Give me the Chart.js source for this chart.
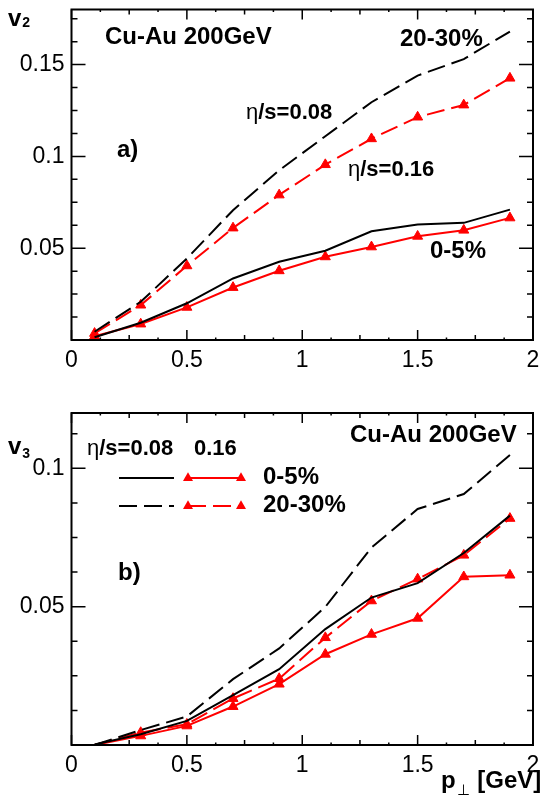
<!DOCTYPE html>
<html>
<head>
<title>v2 and v3 in Cu-Au 200GeV</title>
<script src="https://cdn.jsdelivr.net/npm/chart.js"></script>
<style>
  body { margin: 0; background: #fff; }
  canvas { position: absolute; left: 0; }
  #topChart { top: 0; }
  #bottomChart { top: 380px; }
</style>
</head>
<body>
<canvas id="topChart" width="541" height="380"></canvas>
<canvas id="bottomChart" width="541" height="427"></canvas>
<script>
// p_T bins (GeV)
const pt = [0.1, 0.3, 0.5, 0.7, 0.9, 1.1, 1.3, 1.5, 1.7, 1.9];

// panel a) v2
const v2Central008 = [0.0015, 0.0094, 0.020, 0.0335, 0.0426, 0.0486, 0.0592, 0.0629, 0.0638, 0.071];
const v2Central016 = [0.002, 0.0087, 0.0178, 0.0286, 0.0377, 0.0453, 0.0507, 0.0565, 0.0598, 0.0665];
const v2Mid008 = [0.0045, 0.0208, 0.0444, 0.0707, 0.0924, 0.111, 0.1295, 0.144, 0.153, 0.168];
const v2Mid016 = [0.0036, 0.019, 0.0404, 0.061, 0.079, 0.0955, 0.1096, 0.1214, 0.128, 0.1426];

// panel b) v3
const v3Central008 = [0.0002, 0.0039, 0.0087, 0.018, 0.0274, 0.0419, 0.0533, 0.0585, 0.0694, 0.0829];
const v3Central016 = [0, 0.0033, 0.0069, 0.0139, 0.022, 0.0328, 0.040, 0.0458, 0.0608, 0.0614];
const v3Mid008 = [0, 0.0054, 0.0103, 0.0238, 0.0349, 0.0499, 0.0714, 0.0853, 0.0907, 0.1048];
const v3Mid016 = [0, 0.0045, 0.0075, 0.0168, 0.024, 0.0388, 0.0521, 0.060, 0.0686, 0.0819];

// tick labels
const xTickLabels = [0, 0.5, 1, 1.5, 2];
const v2TickLabels = [0.05, 0.1, 0.15];
const v3TickLabels = [0.05, 0.1];

const RED = '#ff0000';
const DASH = [18, 7];
const FONT = 'Liberation Sans, Arial, sans-serif';

function pts(ys) {
  return pt.map((x, i) => ({ x: x, y: ys[i] }));
}

function blackLine(ys, dashed) {
  return {
    data: pts(ys), borderColor: '#000', borderWidth: 2, pointRadius: 0,
    borderDash: dashed ? DASH : [], tension: 0, fill: false
  };
}

function redLine(ys, dashed) {
  return {
    data: pts(ys), borderColor: RED, borderWidth: 2, tension: 0, fill: false,
    borderDash: dashed ? DASH : [],
    pointStyle: 'triangle',
    pointRadius: c => (c.raw && c.raw.y > 0 ? 5.8 : 0),
    pointBackgroundColor: RED, pointBorderColor: RED, pointBorderWidth: 1
  };
}

// frame with inward ticks on all four sides (ROOT style)
const frameTicks = {
  id: 'frameTicks',
  afterDatasetsDraw(chart, args, opts) {
    const { ctx, chartArea: a, scales: { x, y } } = chart;
    ctx.save();
    ctx.strokeStyle = '#000';
    ctx.lineWidth = 1.5;
    ctx.beginPath();
    for (let i = 0; i <= 16; i++) {
      const px = x.getPixelForValue(i * 0.125);
      const len = i % 4 === 0 ? 10 : (i % 2 === 0 ? 5 : 2.5);
      ctx.moveTo(px, a.bottom); ctx.lineTo(px, a.bottom - len);
      ctx.moveTo(px, a.top); ctx.lineTo(px, a.top + len);
    }
    for (let i = 0; i * 0.0125 <= y.max + 1e-9; i++) {
      const py = y.getPixelForValue(i * 0.0125);
      const len = i % 4 === 0 ? 14 : 6;
      ctx.moveTo(a.left, py); ctx.lineTo(a.left + len, py);
      ctx.moveTo(a.right, py); ctx.lineTo(a.right - len, py);
    }
    ctx.stroke();
    ctx.lineWidth = 2;
    ctx.strokeRect(a.left, a.top, a.right - a.left, a.bottom - a.top);
    ctx.restore();
  }
};

function tri(ctx, cx, cy, r) {
  ctx.beginPath();
  ctx.moveTo(cx, cy - r);
  ctx.lineTo(cx + r * Math.sin(2 * Math.PI / 3), cy - r * Math.cos(2 * Math.PI / 3));
  ctx.lineTo(cx + r * Math.sin(4 * Math.PI / 3), cy - r * Math.cos(4 * Math.PI / 3));
  ctx.closePath();
  ctx.fill();
}

// labels, sub-scripted axis names and the hand drawn legend
const notes = {
  id: 'notes',
  afterDraw(chart, args, opts) {
    const ctx = chart.ctx;
    ctx.save();
    ctx.textBaseline = 'alphabetic';
    (opts.items || []).forEach(it => {
      if (it.line) {
        ctx.strokeStyle = it.color;
        ctx.fillStyle = it.color;
        ctx.lineWidth = 2;
        ctx.setLineDash(it.dash || []);
        ctx.beginPath();
        ctx.moveTo(it.x0, it.y); ctx.lineTo(it.x1, it.y);
        ctx.stroke();
        ctx.setLineDash([]);
        if (it.marker) { tri(ctx, it.x0, it.y, 5.8); tri(ctx, it.x1, it.y, 5.8); }
        return;
      }
      ctx.fillStyle = it.color || '#000';
      const size = it.size || 24;
      let x = it.x;
      if (it.greek) {
        // thin greek letter in front, as in the original figure
        ctx.font = size + 'px ' + FONT;
        ctx.fillText(it.greek, x, it.y);
        x += ctx.measureText(it.greek).width;
      }
      ctx.font = 'bold ' + size + 'px ' + FONT;
      ctx.fillText(it.text, x, it.y);
      if (it.sub) {
        const w = ctx.measureText(it.text).width;
        ctx.font = (it.subBold === false ? '' : 'bold ') + (it.subSize || 15) + 'px ' + FONT;
        ctx.fillText(it.sub, x + w + 1, it.y + (it.subDy || 5));
        if (it.tail) {
          const w2 = ctx.measureText(it.sub).width;
          ctx.font = 'bold ' + size + 'px ' + FONT;
          ctx.fillText(it.tail, x + w + w2 + 2, it.y);
        }
      }
    });
    ctx.restore();
  }
};

function makeChart(id, datasets, yMax, yTicks, padTop, xAxisHeight, items) {
  return new Chart(document.getElementById(id), {
    type: 'line',
    data: { datasets: datasets },
    options: {
      responsive: false,
      animation: false,
      devicePixelRatio: 1,
      layout: { padding: { top: padTop, right: 8, left: 0, bottom: 0 } },
      plugins: {
        legend: { display: false },
        tooltip: { enabled: false },
        notes: { items: items }
      },
      scales: {
        x: {
          type: 'linear', min: 0, max: 2,
          grid: { display: false, drawTicks: false },
          border: { display: false },
          afterBuildTicks: s => { s.ticks = xTickLabels.map(v => ({ value: v })); },
          afterFit: s => { s.height = xAxisHeight; s.paddingLeft = 0; s.paddingRight = 0; },
          ticks: {
            color: '#000', padding: 7, maxRotation: 0, autoSkip: false,
            font: { family: FONT, size: 23 },
            callback: v => String(v)
          }
        },
        y: {
          type: 'linear', min: 0, max: yMax,
          grid: { display: false, drawTicks: false },
          border: { display: false },
          afterBuildTicks: s => { s.ticks = yTicks.map(v => ({ value: v })); },
          afterFit: s => { s.width = 71.5; s.paddingTop = 0; s.paddingBottom = 0; },
          ticks: {
            color: '#000', padding: 7, autoSkip: false,
            font: { family: FONT, size: 23 },
            callback: v => String(v)
          }
        }
      }
    },
    plugins: [frameTicks, notes]
  });
}

makeChart('topChart', [
  blackLine(v2Central008, false),
  blackLine(v2Mid008, true),
  redLine(v2Central016, false),
  redLine(v2Mid016, true)
], 0.18, v2TickLabels, 9.5, 40, [
  { text: 'v', x: 8, y: 26, size: 24, sub: '2', subSize: 14, subDy: 1 },
  { text: 'Cu-Au 200GeV', x: 105, y: 44 },
  { text: '20-30%', x: 400, y: 46 },
  { greek: '\u03b7', text: '/s=0.08', x: 246, y: 119, size: 22 },
  { text: 'a)', x: 117, y: 157 },
  { greek: '\u03b7', text: '/s=0.16', x: 348, y: 176, size: 22 },
  { text: '0-5%', x: 430, y: 258 }
]);

makeChart('bottomChart', [
  blackLine(v3Central008, false),
  blackLine(v3Mid008, true),
  redLine(v3Central016, false),
  redLine(v3Mid016, true)
], 0.12, v3TickLabels, 33, 62, [
  { text: 'v', x: 8, y: 74, size: 24, sub: '3', subSize: 14, subDy: 4 },
  { text: 'Cu-Au 200GeV', x: 350, y: 62 },
  { greek: '\u03b7', text: '/s=0.08', x: 87, y: 75, size: 22 },
  { text: '0.16', x: 194, y: 75, size: 22 },
  { line: true, color: '#000', x0: 119, x1: 174, y: 98 },
  { line: true, color: RED, x0: 188, x1: 241, y: 98, marker: true },
  { text: '0-5%', x: 263, y: 104 },
  { line: true, color: '#000', x0: 119, x1: 174, y: 126, dash: DASH },
  { line: true, color: RED, x0: 188, x1: 241, y: 126, marker: true, dash: DASH },
  { text: '20-30%', x: 263, y: 132 },
  { text: 'b)', x: 118, y: 200 },
  { text: 'p', x: 441, y: 408, size: 24, sub: '\u22a5', subSize: 15, subDy: 7, subBold: false, tail: ' [GeV]' }
]);
</script>
</body>
</html>
